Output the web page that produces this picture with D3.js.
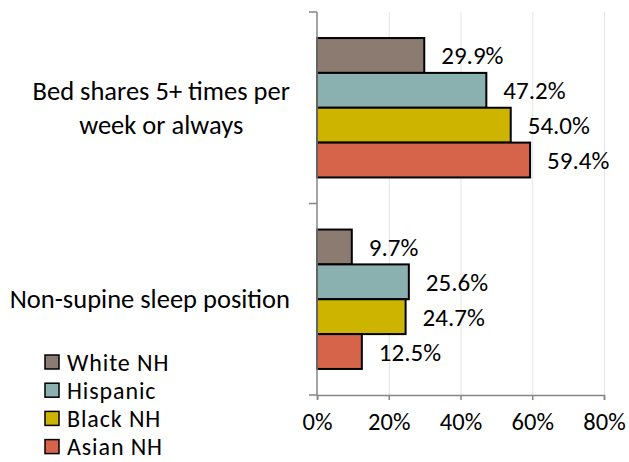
<!DOCTYPE html>
<html>
<head>
<meta charset="utf-8">
<script src="https://cdn.jsdelivr.net/npm/d3@7"></script>
<style>
  html, body { margin: 0; padding: 0; background: #fff; }
  svg { display: block; }
  text { font-family: Carlito, Lato, "Liberation Sans", sans-serif; fill: #000; }
</style>
</head>
<body>
<svg id="chart" width="629" height="462"></svg>
<script>
const categories = ["Bed shares 5+ times per week or always", "Non-supine sleep position"];
const categoryLines = [["Bed shares 5+ times per", "week or always"], ["Non-supine sleep position"]];
const seriesNames = ["White NH", "Hispanic", "Black NH", "Asian NH"];
const whiteNH = [29.9, 9.7];
const hispanic = [47.2, 25.6];
const blackNH = [54.0, 24.7];
const asianNH = [59.4, 12.5];
const seriesColors = ["#8c7b71", "#8bb0b0", "#cdb400", "#d5644b"];
const xTicks = [0, 20, 40, 60, 80];

const seriesValues = [whiteNH, hispanic, blackNH, asianNH];

const svg = d3.select("#chart");
const mLeft = 317, mRight = 604, mTop = 12, mBottom = 395;
const fsNum = 25, fsTick = 24.5, fsText = 26.5, fsLegend = 24;

const x = d3.scaleLinear().domain([0, 80]).range([mLeft, mRight]);
const y = d3.scaleBand().domain(categories).range([mTop, mBottom]).paddingInner(0.272).paddingOuter(0.136);
const ySub = d3.scaleBand().domain(seriesNames).range([0, y.bandwidth()]);

// gridlines
svg.append("g").selectAll("line").data(xTicks.filter(d => d > 0)).join("line")
  .attr("x1", d => x(d) + 0.5).attr("x2", d => x(d) + 0.5)
  .attr("y1", mTop).attr("y2", mBottom)
  .attr("stroke", "#e4e4e4").attr("stroke-width", 1);

// bars
const groups = svg.append("g").selectAll("g").data(categories).join("g")
  .attr("transform", d => `translate(0,${y(d)})`);

groups.each(function(cat, ci) {
  const g = d3.select(this);
  seriesNames.forEach((s, si) => {
    const v = seriesValues[si][ci];
    g.append("rect")
      .attr("x", x(0))
      .attr("y", ySub(s))
      .attr("width", x(v) - x(0))
      .attr("height", ySub.bandwidth())
      .attr("fill", seriesColors[si])
      .attr("stroke", "#000")
      .attr("stroke-width", 2);
    g.append("text")
      .attr("x", x(v) + 17)
      .attr("y", ySub(s) + ySub.bandwidth() / 2)
      .attr("dy", "0.36em")
      .attr("font-size", fsNum)
      .text(v.toFixed(1) + "%");
  });
});

// x axis
const xAxis = d3.axisBottom(x).tickValues(xTicks).tickFormat(d => d + "%").tickSize(5).tickPadding(13);
const gx = svg.append("g").attr("transform", `translate(0,${mBottom})`).call(xAxis);
gx.select(".domain").attr("stroke", "#868686").attr("stroke-width", 1.5);
gx.selectAll(".tick line").attr("stroke", "#868686").attr("stroke-width", 1.5);
gx.selectAll(".tick text").attr("font-size", fsTick).attr("font-family", "Carlito, Lato, sans-serif").attr("fill", "#000");

// y axis
const yAxisTicks = [mTop, mTop + (mBottom - mTop) / 2, mBottom];
svg.append("line").attr("x1", mLeft).attr("x2", mLeft).attr("y1", mTop).attr("y2", mBottom)
  .attr("stroke", "#868686").attr("stroke-width", 1.5);
svg.append("g").selectAll("line").data(yAxisTicks).join("line")
  .attr("x1", mLeft - 8).attr("x2", mLeft).attr("y1", d => d).attr("y2", d => d)
  .attr("stroke", "#868686").attr("stroke-width", 1.5);

// category labels
categories.forEach((c, ci) => {
  const lines = categoryLines[ci];
  const cy = y(c) + y.bandwidth() / 2;
  const t = svg.append("text").attr("font-size", fsText).attr("text-anchor", "middle");
  const spans = lines.map(ln => t.append("tspan").text(ln));
  let maxW = 0;
  spans.forEach(sp => { maxW = Math.max(maxW, sp.node().getComputedTextLength()); });
  const cx = 290 - maxW / 2;
  const lh = 34;
  const firstBase = cy - (lines.length - 1) * lh / 2 + 9;
  spans.forEach((sp, li) => sp.attr("x", cx).attr("y", firstBase + li * lh));
});

// legend
const legend = svg.append("g").selectAll("g").data(seriesNames).join("g")
  .attr("transform", (d, i) => `translate(45,${355 + i * 28.2})`);
legend.append("rect").attr("width", 14).attr("height", 14)
  .attr("fill", (d, i) => seriesColors[i]).attr("stroke", "#000").attr("stroke-width", 1.5);
legend.append("text").attr("x", 22).attr("y", 7).attr("dy", "0.36em")
  .attr("font-size", fsLegend).attr("letter-spacing", "0.9px").text(d => d);
</script>
</body>
</html>
